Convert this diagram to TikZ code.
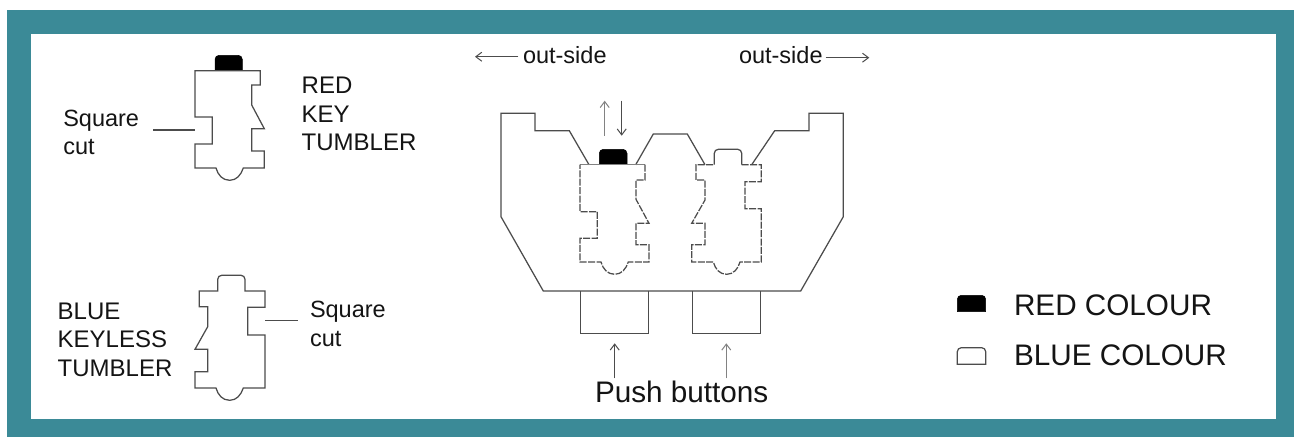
\documentclass[tikz,border=0pt]{standalone}
\usepackage{fontspec}
\setmainfont{Liberation Sans}
\usetikzlibrary{arrows.meta}
\definecolor{frameteal}{HTML}{3B8A97}
\definecolor{inkline}{gray}{0.3}
\definecolor{inktext}{gray}{0.08}
\tikzset{
  x=1pt,y=-1pt,
  outline/.style={draw=inkline,line width=1.25pt,line join=miter},
  dashedline/.style={draw=inkline,line width=1.25pt,dash pattern=on 7pt off 1.4pt},
  capfill/.style={fill=black,draw=black,line width=0.5pt},
  capopen/.style={draw=inkline,line width=1.2pt},
  leader/.style={draw=inkline,line width=1.1pt},
  arrowline/.style={draw=inkline,line width=1.1pt,-{Straight Barb[length=6pt,width=9pt,line width=1pt]}},
  label/.style={anchor=base west,inner sep=0pt,outer sep=0pt,text=inktext,font=\fontsize{23.5pt}{28pt}\selectfont},
  capslabel/.style={anchor=base west,inner sep=0pt,outer sep=0pt,text=inktext,font=\fontsize{24pt}{28pt}\selectfont},
  biglabel/.style={anchor=base west,inner sep=0pt,outer sep=0pt,text=inktext,font=\fontsize{29.7pt}{34pt}\selectfont},
}
\begin{document}
\begin{tikzpicture}
\useasboundingbox (0,0) rectangle (1294,437);
\fill[white] (0,0) rectangle (1294,437);
\fill[frameteal] (7,10) rectangle (1294,437);
\fill[white] (31,34) rectangle (1276,419);

% red key tumbler
\draw[capfill] (215,70.7) [rounded corners=4pt] -- (215,55.3) -- (242.3,55.3) [sharp corners] -- (242.3,70.7) -- cycle;
\draw[outline] (195,70.7) -- (260.3,70.7) -- (260.3,85) -- (251.7,85) -- (251.7,105) -- (264.3,128.7) -- (251.7,128.7) -- (251.7,151) -- (264.3,151) -- (264.3,168) -- (243.3,168)
  .. controls (241,175) and (236.5,180.3) .. (229.7,180.3) .. controls (222.5,180.3) and (218,175) .. (216,168)
  -- (195,168) -- (195,144) -- (212.3,144) -- (212.3,117) -- (195,117) -- cycle;
\coordinate (redcutA) at (153.3,130);
\coordinate (redcutB) at (195,130);
\draw[leader] (redcutA) -- (redcutB);
\node[label] (sqa) at (63.3,126) {Square};
\node[label] (cuta) at (63.3,154.3) {cut};
\node[capslabel] (reda) at (301.7,93.3) {RED};
\node[capslabel] (keya) at (301.7,122.7) {KEY};
\node[capslabel] (tuma) at (301.7,150.7) {TUMBLER};

% blue keyless tumbler
\draw[outline] (199.3,291) -- (217.7,291) [rounded corners=4pt] -- (217.7,275.3) -- (245,275.3) [sharp corners] -- (245,291) -- (265,291) -- (265,307.3) -- (247.7,307.3) -- (247.7,335) -- (265,335) -- (265,388) -- (243.3,388)
  .. controls (241,395) and (236.5,400.3) .. (229.7,400.3) .. controls (222.5,400.3) and (218,395) .. (216,388)
  -- (195,388) -- (195,371.7) -- (207.7,371.7) -- (207.7,349.3) -- (195,349.3) -- (207.7,326.7) -- (207.7,306.7) -- (199.3,306.7) -- cycle;
\coordinate (bluecutA) at (265,320.3);
\coordinate (bluecutB) at (297.7,320.3);
\draw[leader] (bluecutA) -- (bluecutB);
\node[label] (sqb) at (310,317.3) {Square};
\node[label] (cutb) at (310,346) {cut};
\node[capslabel] (blue) at (57.7,319.3) {BLUE};
\node[capslabel] (keyless) at (57.7,347.7) {KEYLESS};
\node[capslabel] (tumb) at (57.7,376.7) {TUMBLER};

% main body
\draw[outline] (589,164.7) -- (569.3,130.7) -- (535,130.7) -- (535,113.3) -- (501,113.3) -- (501,216.7) -- (543.3,291) -- (800.7,291) -- (843.3,216.7) -- (843.3,113.3) -- (809,113.3) -- (809,130.7) -- (774.7,130.7) -- (751.7,164.7);
\draw[outline] (635.7,164.7) -- (653.3,134) -- (687.3,134) -- (705,164.7);

% tumbler in body, left
\draw[capfill] (599.3,164.7) [rounded corners=4pt] -- (599.3,149.3) -- (627,149.3) [sharp corners] -- (627,164.7) -- cycle;
\draw[outline,draw=inkline!70] (580,164.7) -- (645,164.7);
\draw[dashedline] (645,164.7) -- (645,180) -- (636,180) -- (636,199.3) -- (649,223.3) -- (636,223.3) -- (636,244.7) -- (649,244.7) -- (649,262) -- (628.3,262)
  .. controls (626,269) and (621.5,274.3) .. (614.7,274.3) .. controls (607.5,274.3) and (603,269) .. (601,262)
  -- (580,262) -- (580,238.3) -- (597.3,238.3) -- (597.3,211.7) -- (580,211.7) -- (580,164.7);

% tumbler in body, right
\draw[outline] (714.3,164.7) [rounded corners=4pt] -- (714.3,149.3) -- (741.7,149.3) [sharp corners] -- (741.7,164.7);
\draw[dashedline] (741.7,164.7) -- (761.3,164.7) -- (761.3,181.7) -- (745,181.7) -- (745,208.7) -- (761.3,208.7) -- (761.3,262) -- (740,262)
  .. controls (738,269) and (733.5,274.3) .. (726.7,274.3) .. controls (719.5,274.3) and (715.3,269) .. (713.3,262)
  -- (691.7,262) -- (691.7,244.7) -- (705,244.7) -- (705,223.3) -- (691.7,223.3) -- (705,200) -- (705,180) -- (696,180) -- (696,164.7) -- (714.3,164.7);

% up and down arrows
\coordinate (upA) at (604.7,135.7);
\coordinate (upB) at (604.7,100.7);
\coordinate (dnA) at (621.7,100.7);
\coordinate (dnB) at (621.7,135.7);
\draw[arrowline,draw=inkline!70] (upA) -- (upB);
\draw[arrowline] (dnA) -- (dnB);

% push buttons
\draw[outline] (580.7,291) -- (580.7,333.7) -- (648.7,333.7) -- (648.7,291);
\draw[outline] (692.3,291) -- (692.3,333.7) -- (760.7,333.7) -- (760.7,291);
\coordinate (pbaA) at (614.7,378.3);
\coordinate (pbaB) at (614.7,343.3);
\coordinate (pbbA) at (726.3,378.3);
\coordinate (pbbB) at (726.3,343.3);
\draw[arrowline] (pbaA) -- (pbaB);
\draw[arrowline,draw=inkline!70] (pbbA) -- (pbbB);
\node[biglabel] (push) at (595,402.3) {Push buttons};

% out-side labels
\node[label] (outl) at (523,63.3) {out-side};
\node[label] (outr) at (739,63.3) {out-side};
\coordinate (olA) at (518.3,56.7);
\coordinate (olB) at (475,56.7);
\coordinate (orA) at (825.7,57.7);
\coordinate (orB) at (869.3,57.7);
\draw[arrowline] (olA) -- (olB);
\draw[arrowline] (orA) -- (orB);

% legend
\draw[capfill] (957.3,311.7) [rounded corners=4pt] -- (957.3,295.3) -- (985.7,295.3) [sharp corners] -- (985.7,311.7) -- cycle;
\draw[capopen] (957.3,364.3) [rounded corners=4pt] -- (957.3,347.7) -- (985.7,347.7) [sharp corners] -- (985.7,364.3) -- cycle;
\node[biglabel] (redcol) at (1014,315.7) {RED COLOUR};
\node[biglabel] (bluecol) at (1014,365) {BLUE COLOUR};
\end{tikzpicture}
\end{document}
